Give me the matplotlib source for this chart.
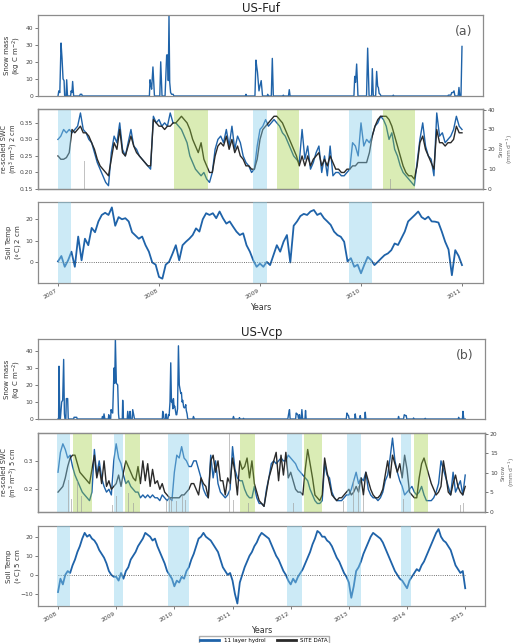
import numpy as np
import matplotlib
matplotlib.use("Agg")
import matplotlib.pyplot as plt
from matplotlib.lines import Line2D

# ---------------- US-Fuf data ----------------
# snow mass (kg C m-2), irregular times (decimal years)
snow_mass_fuf_t = [2007.000, 2007.008, 2007.018, 2007.030, 2007.040, 2007.050, 2007.060, 2007.066, 2007.080, 2007.086,
                   2007.094, 2007.125, 2007.130, 2007.138, 2007.145, 2007.155, 2007.215, 2007.220, 2007.235, 2007.240,
                   2007.905, 2007.911, 2007.918, 2007.927, 2007.940, 2007.955, 2008.008, 2008.017, 2008.030, 2008.060,
                   2008.066, 2008.076, 2008.086, 2008.092, 2008.099, 2008.106, 2008.115, 2008.125, 2008.140, 2008.148,
                   2008.855, 2008.861, 2008.867, 2008.950, 2008.960, 2008.968, 2008.975, 2008.990, 2009.000, 2009.012,
                   2009.025, 2009.072, 2009.076, 2009.082, 2009.112, 2009.122, 2009.132, 2009.226, 2009.231, 2009.237,
                   2009.282, 2009.290, 2009.298, 2009.930, 2009.938, 2009.946, 2009.957, 2009.970, 2010.055, 2010.066,
                   2010.080, 2010.105, 2010.112, 2010.122, 2010.145, 2010.155, 2010.165, 2010.172, 2010.180, 2010.190,
                   2010.198, 2010.315, 2010.320, 2010.326, 2010.860, 2010.865, 2010.890, 2010.898, 2010.910, 2010.921,
                   2010.930, 2010.962, 2010.970, 2010.978, 2010.990, 2011.000]
snow_mass_fuf = [0, 3, 2, 31, 22, 10, 9, 0, 0, 9.5,
                 0, 0, 3, 2, 8.5, 0, 0, 1, 1, 0,
                 0, 9.5, 7, 4, 17, 0, 0, 20, 0, 0,
                 9, 24, 24, 9, 47, 8, 2, 1, 1, 0,
                 0, 1, 0, 0, 21, 17, 14, 3, 6, 9,
                 0, 0, 1, 0, 0, 22, 0, 0, 0.5, 0,
                 0, 3.7, 0, 0, 11.5, 8, 18.7, 0, 0, 28,
                 0, 0, 16, 0, 0, 14.4, 5.6, 5, 1.5, 1,
                 0, 0, 0.5, 0, 0, 0.5, 0.5, 2, 2, 3,
                 0, 0, 5, 0, 0, 29]

# re-scaled SWC 2 cm, 36 samples per year from 2007.0
swc_model_fuf = [0.30, 0.31, 0.33, 0.32, 0.33, 0.32, 0.33, 0.34, 0.38, 0.33, 0.32, 0.30, 0.29, 0.26, 0.23, 0.21, 0.19, 0.17, 0.16,
                 0.26, 0.31, 0.29, 0.35, 0.27, 0.25, 0.29, 0.33, 0.28, 0.27, 0.25, 0.24, 0.23, 0.22, 0.21, 0.37, 0.35,
                 0.36, 0.34, 0.35, 0.34, 0.38, 0.35, 0.35, 0.34, 0.33, 0.31, 0.29, 0.25, 0.23, 0.21, 0.20, 0.19, 0.20, 0.18, 0.17,
                 0.20, 0.27, 0.30, 0.31, 0.29, 0.33, 0.28, 0.34, 0.27, 0.31, 0.29, 0.25, 0.23, 0.22, 0.20, 0.21, 0.28, 0.33, 0.34,
                 0.36, 0.34, 0.35, 0.36, 0.35, 0.34, 0.32, 0.31, 0.29, 0.27, 0.25, 0.24, 0.23, 0.33, 0.24, 0.28, 0.21, 0.23, 0.26,
                 0.28, 0.20, 0.25, 0.19, 0.28, 0.19, 0.20, 0.20, 0.19, 0.19, 0.20, 0.21,
                 0.29, 0.28, 0.25, 0.35, 0.28, 0.30, 0.29, 0.31, 0.34, 0.35, 0.37, 0.36, 0.34, 0.30, 0.32, 0.27, 0.25, 0.22, 0.20,
                 0.19, 0.18, 0.17, 0.16, 0.23, 0.30, 0.35, 0.28, 0.25, 0.24, 0.19, 0.38, 0.31, 0.32, 0.29, 0.30, 0.31, 0.33, 0.37,
                 0.34, 0.33]
swc_site_fuf = [0.25, 0.24, 0.24, 0.245, 0.26, 0.33, 0.32, 0.33, 0.34, 0.32, 0.32, 0.31, 0.29, 0.27, 0.24, 0.22, 0.21, 0.20, 0.19,
                0.24, 0.29, 0.27, 0.33, 0.26, 0.25, 0.28, 0.31, 0.28, 0.26, 0.25, 0.24, 0.23, 0.22, 0.22, 0.36, 0.35,
                0.34, 0.34, 0.33, 0.34, 0.34, 0.35, 0.35, 0.36, 0.37, 0.36, 0.35, 0.33, 0.30, 0.28, 0.26, 0.29, 0.24, 0.22, 0.20,
                0.20, 0.25, 0.28, 0.29, 0.28, 0.31, 0.27, 0.30, 0.26, 0.28, 0.25, 0.24, 0.22, 0.22, 0.21, 0.21, 0.24, 0.30, 0.33,
                0.34, 0.35, 0.36, 0.37, 0.37, 0.36, 0.35, 0.33, 0.31, 0.29, 0.27, 0.25, 0.22, 0.25, 0.22, 0.25, 0.22, 0.24, 0.25,
                0.26, 0.22, 0.24, 0.22, 0.25, 0.23, 0.21, 0.21, 0.20, 0.20, 0.21, 0.21,
                0.22, 0.22, 0.23, 0.23, 0.23, 0.23, 0.26, 0.31, 0.34, 0.36, 0.37, 0.37, 0.37, 0.36, 0.34, 0.31, 0.28, 0.25, 0.22,
                0.20, 0.19, 0.19, 0.18, 0.22, 0.29, 0.31, 0.27, 0.25, 0.23, 0.21, 0.33, 0.29, 0.29, 0.28, 0.29, 0.29, 0.30, 0.34,
                0.32, 0.32]

# daily snow at site (mm d-1)
snow_fuf_t = [2007.07, 2007.19, 2007.21, 2007.23, 2007.26, 2007.90, 2007.94, 2007.96, 2008.01, 2008.05,
              2008.08, 2008.14, 2008.22, 2008.93, 2008.97, 2009.03, 2009.07, 2009.10, 2009.13, 2009.89,
              2009.92, 2009.95, 2009.98, 2010.04, 2010.12, 2010.29, 2010.96, 2010.99]
snow_fuf = [6, 5, 9, 13, 14, 2, 7, 8, 11, 30,
            10, 13, 2, 3, 10, 11, 23, 40, 6, 5,
            9, 11, 13, 6, 23, 5, 16, 2]

# soil temperature 2 cm, 30 samples per year from 2007.0
temp_fuf = [0.5, 3, -2, 1, 5, -2, 12, 1, 11, 8, 16, 14, 19, 22, 23, 22, 25.5, 17, 21, 20,
            20.5, 19, 14, 12.5, 11, 12, 8, 5, 0, -1, -6.7, -7.5, -1, 0.3, 4, 8, 1, 8, 9.6, 11,
            12.7, 15.8, 14.3, 20, 22.8, 22, 22.8, 20.5, 23.6, 20.5, 18, 19, 16.6, 14.3, 12.7, 13.5, 8, 5, 1, -2,
            -0.5, -2, 0.3, -1.2, 3.4, 8, 5, 9.6, 12.7, 0, 17, 19, 21.5, 22.5, 22, 23.6, 24.3, 22, 22.8, 20.5,
            19, 17.4, 14.3, 12.7, 11.9, 9.6, 0.5, 2, -2, -1, -5, -1, 2.6, 1.1, -1.2, 0.3, 1.9, 3.4, 4.2, 5.7,
            8.8, 8.1, 11.2, 14.3, 19, 20.5, 22, 23.6, 21, 20, 21.2, 19, 18.9, 18.5, 14.3, 9.6, 6, -5.9, 5.7, 3,
            -1.2]

blue_fuf_start = [2007.00, 2008.93, 2009.88]
blue_fuf_end = [2007.13, 2009.07, 2010.11]
green_fuf_start = [2008.15, 2009.17, 2010.22]
green_fuf_end = [2008.49, 2009.39, 2010.53]

# ---------------- US-Vcp data ----------------
snow_mass_vcp_t = [2008.000, 2008.010, 2008.017, 2008.030, 2008.040, 2008.052, 2008.063, 2008.080, 2008.097, 2008.110,
                   2008.120, 2008.135, 2008.143, 2008.166, 2008.176, 2008.270, 2008.275, 2008.321, 2008.330,
                   2008.755, 2008.763, 2008.780, 2008.791, 2008.805, 2008.865, 2008.872, 2008.885, 2008.905, 2008.912,
                   2008.925, 2008.940, 2008.963, 2008.975, 2008.986, 2009.003, 2009.026, 2009.040, 2009.049, 2009.105,
                   2009.112, 2009.125, 2009.190, 2009.198, 2009.215, 2009.232, 2009.239, 2009.250, 2009.275, 2009.284,
                   2009.300, 2009.315,
                   2009.793, 2009.800, 2009.812, 2009.823, 2009.850, 2009.858, 2009.870, 2009.890, 2009.898, 2009.910,
                   2009.925, 2009.938, 2009.950, 2009.961, 2009.975, 2009.984, 2009.996, 2010.007, 2010.030, 2010.041,
                   2010.055, 2010.070, 2010.085, 2010.099, 2010.110, 2010.122, 2010.133, 2010.144, 2010.160, 2010.173,
                   2010.185, 2010.196, 2010.205, 2010.219, 2010.230, 2010.318, 2010.328, 2010.345,
                   2011.005, 2011.016, 2011.030, 2011.110, 2011.119, 2011.130, 2011.180, 2011.188, 2011.200,
                   2011.950, 2011.962, 2011.979, 2011.990, 2012.085, 2012.094, 2012.110, 2012.123, 2012.135, 2012.145,
                   2012.151, 2012.160, 2012.180, 2012.192, 2012.205, 2012.245, 2012.255, 2012.265,
                   2012.955, 2012.966, 2012.980, 2012.994, 2013.005, 2013.100, 2013.109, 2013.120, 2013.188, 2013.195,
                   2013.205, 2013.272, 2013.281, 2013.292,
                   2013.845, 2013.854, 2013.865, 2013.940, 2013.952, 2013.975, 2013.986, 2013.995, 2014.105, 2014.112,
                   2014.120, 2014.305, 2014.313, 2014.320, 2014.880, 2014.887, 2014.895, 2014.952, 2014.961, 2014.975,
                   2015.000]
snow_mass_vcp = [0, 0, 31, 3, 0, 5, 10, 11, 35, 3,
                 0, 0, 12, 12, 0, 0, 1, 1, 0,
                 0, 1.5, 0, 3, 0, 0, 2.5, 0, 0, 5.5,
                 4, 3.5, 30, 21, 47, 21, 20, 3, 0, 0,
                 11, 0, 0, 4.5, 0, 0, 4.5, 0, 0, 5.5,
                 2.5, 0,
                 0, 4.5, 3, 0, 0, 3, 0, 0, 2.5, 2,
                 10, 33, 10, 11, 6, 12, 7, 7.5, 2.5, 2.5,
                 6, 43, 20, 17, 15, 15.5, 10, 11, 7, 6.5,
                 7, 8.4, 5, 3, 0, 0, 1.5, 0,
                 0, 1.5, 0, 0, 0.8, 0, 0, 0.4, 0,
                 0, 2.5, 5.5, 0, 0, 3.5, 3, 2.5, 0, 0,
                 2.5, 0, 0, 5.5, 0, 0, 5, 0,
                 0, 3.5, 2.5, 2, 0, 0, 3, 0, 0, 2,
                 0, 0, 4, 0,
                 0, 1.5, 0, 0, 2.5, 2, 2, 0, 0, 0.6,
                 0, 0, 0.4, 0, 0, 1, 0, 0, 4.5, 0,
                 0]

# re-scaled SWC 5 cm, 24 samples per year from 2008.0
swc_model_vcp = [0.26, 0.33, 0.36, 0.34, 0.31, 0.32, 0.28, 0.25, 0.23, 0.21, 0.19, 0.18, 0.17, 0.16, 0.19, 0.34, 0.25, 0.30,
                 0.24, 0.21, 0.19, 0.20, 0.18, 0.30, 0.36, 0.31, 0.29, 0.25, 0.22, 0.23, 0.21, 0.20, 0.19, 0.19, 0.17, 0.18,
                 0.17, 0.18, 0.17, 0.18, 0.17, 0.17, 0.16, 0.18, 0.17, 0.16, 0.17, 0.16, 0.26, 0.32, 0.31, 0.35, 0.31, 0.30,
                 0.28,
                 0.28, 0.30, 0.30, 0.27, 0.24, 0.20, 0.18, 0.17, 0.32, 0.24, 0.30, 0.22, 0.19, 0.18, 0.17, 0.18, 0.20, 0.35,
                 0.27, 0.24, 0.23, 0.23, 0.20, 0.18, 0.17, 0.17, 0.21, 0.17, 0.15, 0.15, 0.14, 0.20, 0.24, 0.29, 0.30, 0.29,
                 0.30, 0.31, 0.30, 0.30, 0.32, 0.31, 0.30, 0.29, 0.27, 0.26, 0.25, 0.24, 0.23, 0.20, 0.18, 0.16, 0.15, 0.15,
                 0.16, 0.29, 0.25, 0.24, 0.19, 0.17, 0.16, 0.16, 0.16, 0.17, 0.18, 0.18,
                 0.20, 0.23, 0.26, 0.22, 0.24, 0.23, 0.26, 0.20, 0.18, 0.17, 0.17, 0.16, 0.17, 0.19, 0.23, 0.25, 0.31, 0.38,
                 0.30, 0.26, 0.23, 0.21, 0.18, 0.19, 0.20, 0.21, 0.19, 0.18, 0.19, 0.21, 0.18, 0.16, 0.16, 0.16, 0.17, 0.19,
                 0.22, 0.30, 0.27, 0.24, 0.21, 0.18, 0.26, 0.19, 0.21, 0.23, 0.18, 0.25]
swc_site_vcp = [0.19, 0.20, 0.21, 0.24, 0.28, 0.31, 0.32, 0.32, 0.29, 0.26, 0.25, 0.24, 0.23, 0.22, 0.27, 0.32, 0.24, 0.28,
                0.22, 0.30, 0.21, 0.23, 0.20, 0.21, 0.22, 0.25, 0.21, 0.26, 0.30, 0.28, 0.26, 0.24, 0.23, 0.28, 0.22, 0.30,
                0.23, 0.29, 0.21, 0.27, 0.22, 0.23, 0.20, 0.22, 0.19, 0.18, 0.17, 0.17, 0.17, 0.17, 0.17, 0.18, 0.18, 0.19,
                0.20,
                0.22, 0.22, 0.20, 0.18, 0.24, 0.22, 0.21, 0.17, 0.30, 0.32, 0.26, 0.30, 0.23, 0.23, 0.18, 0.24, 0.22, 0.31,
                0.26, 0.18, 0.30, 0.27, 0.28, 0.31, 0.24, 0.30, 0.22, 0.19, 0.16, 0.15, 0.14, 0.19, 0.24, 0.27, 0.30, 0.33,
                0.23, 0.32, 0.25, 0.33, 0.24, 0.26, 0.23, 0.20, 0.19, 0.19, 0.18, 0.27, 0.34, 0.29, 0.24, 0.18, 0.17, 0.16,
                0.18, 0.31, 0.26, 0.22, 0.18, 0.17, 0.16, 0.17, 0.17, 0.18, 0.19, 0.20,
                0.18, 0.19, 0.21, 0.19, 0.24, 0.18, 0.26, 0.23, 0.20, 0.18, 0.17, 0.17, 0.18, 0.20, 0.25, 0.30, 0.24, 0.32,
                0.29, 0.26, 0.29, 0.24, 0.32, 0.27, 0.19, 0.18, 0.17, 0.17, 0.24, 0.29, 0.31, 0.28, 0.25, 0.22, 0.20, 0.18,
                0.19, 0.21, 0.30, 0.25, 0.19, 0.18, 0.22, 0.25, 0.21, 0.19, 0.18, 0.21]

snow_vcp_t = [2008.034, 2008.069, 2008.103, 2008.138, 2008.178, 2008.235, 2008.292, 2008.333, 2008.407, 2008.894,
              2008.935, 2008.981, 2009.009, 2009.067, 2009.153, 2009.210, 2009.296, 2009.869, 2009.915, 2009.955,
              2009.995, 2010.041, 2010.099, 2010.144, 2010.190, 2010.299, 2010.815, 2010.856, 2010.901, 2010.947,
              2010.987, 2011.016, 2011.073, 2011.131, 2011.217, 2011.274, 2011.933, 2011.991, 2012.048, 2012.106,
              2012.163, 2012.335, 2012.851, 2012.908, 2013.080, 2013.166, 2013.252, 2013.310, 2013.940, 2013.998,
              2014.084, 2014.170, 2014.858, 2014.915, 2014.972]
snow_vcp = [2.5, 3, 2, 3, 8.3, 3.2, 6.6, 8, 4, 2.3,
            1.9, 3, 4, 6.6, 1.9, 4.9, 2.3, 3, 4, 3.5,
            5, 2.7, 10, 4, 3, 3.2, 4, 5.8, 3, 21,
            4, 3, 4, 2.3, 4.9, 2.3, 2, 1.5, 2.3, 1.9,
            1.5, 3.2, 4, 2.7, 8.3, 6.6, 4, 1.9, 3.2, 1.9,
            6.6, 2.7, 2.7, 1.9, 2.3]

# soil temperature 5 cm, 24 samples per year from 2008.0
temp_vcp = [-9, -2, -5, 0, 2, 1, 5, 8, 12, 15, 19, 22, 20, 21, 19, 18, 16, 13, 11, 9, 6, 2, 0, -1,
            -1, -3, 1, -2, 2, 4, 8, 10, 12, 15, 17, 19, 22, 21, 20, 18, 19, 15, 12, 9, 6, 2, 0, -2,
            -6, -3, -4, -1, -2, 2, 4, 8, 11, 15, 19, 20, 22, 20, 19, 18, 16, 14, 12, 8, 4, 2, 0, 1,
            -3, -10, -15, -4, 0, 4, 7, 10, 12, 15, 17, 20, 22, 21, 20, 19, 16, 13, 10, 8, 5, 2, 0, -3,
            -5, -2, -4, -1, 1, 3, 6, 9, 12, 16, 19, 23, 22, 20, 20, 18, 17, 15, 12, 9, 7, 4, 1, -1,
            -4, -12, -6, 2, 4, 7, 11, 14, 17, 20, 22, 21, 20, 19, 17, 14, 11, 8, 5, 2, 0, -2, -3, -5,
            -7, -3, -1, 1, 3, 2, 5, 7, 10, 13, 16, 19, 22, 24, 20, 18, 17, 15, 13, 9, 5, 3, 1, 2, -7]

blue_vcp_start = [2007.98, 2008.96, 2009.89, 2011.94, 2012.96, 2013.90]
blue_vcp_end = [2008.21, 2009.12, 2010.25, 2012.19, 2013.20, 2014.07]
green_vcp_start = [2008.25, 2009.15, 2011.13, 2012.22, 2014.12]
green_vcp_end = [2008.58, 2009.41, 2011.39, 2012.54, 2014.36]

MODEL = '#1f63a9'
SITE = '#2a2a2a'
SKY = '#87ceeb'
GRN = '#9acd32'
W, H = 528, 643


def box(left, top, right, bottom):
    return [left / W, 1 - bottom / H, (right - left) / W, (bottom - top) / H]


def style(ax):
    for s in ax.spines.values():
        s.set_color('#8c8c8c')
        s.set_linewidth(0.9)
    ax.tick_params(labelsize=4.3, colors='#444444', length=2, width=0.5, pad=1.5)


def spans(ax, s_blue, e_blue, s_green=None, e_green=None):
    for a, b in zip(s_blue, e_blue):
        ax.axvspan(a, b, color=SKY, alpha=0.42, lw=0, zorder=3)
    if s_green is not None:
        for a, b in zip(s_green, e_green):
            ax.axvspan(a, b, color=GRN, alpha=0.36, lw=0, zorder=3)


def left_label(ax, text, right_px, width_px, size=5):
    ax.set_ylabel(text, fontsize=size, color='#333333', linespacing=1.1)
    ax.yaxis.set_label_coords((right_px - 38) / width_px, 0.5)


fig = plt.figure(figsize=(W / 100, H / 100), dpi=100)


def site_panels(start, rate_swc, rate_temp, xlim, tops, right, smass_t, smass, swc_m, swc_s, sn_t, sn,
                temp, b_s, b_e, g_s, g_e, depth, swc_ylim, swc_ticks, snow_ylim, snow_ticks,
                smass_ylim, temp_ylim, temp_ticks, title, letter, years):
    wpx = right - 38
    # snow mass
    ax1 = fig.add_axes(box(38, tops[0][0], right, tops[0][1]))
    ax1.plot(smass_t, smass, color=MODEL, lw=1.0)
    ax1.set_xlim(xlim)
    ax1.set_ylim(smass_ylim)
    ax1.set_yticks([0, 10, 20, 30, 40])
    ax1.set_xticks([])
    left_label(ax1, 'Snow mass\n(kg C m$^{-2}$)', 23, wpx)
    ax1.set_title(title, fontsize=8.5, color='#222222', pad=2.5)
    ax1.text(0.975, 0.8, letter, transform=ax1.transAxes, fontsize=9, color='#555555', ha='right', va='center')
    style(ax1)

    # soil water content
    ax2 = fig.add_axes(box(38, tops[1][0], right, tops[1][1]))
    t_swc = start + np.arange(len(swc_m)) / rate_swc
    t_site = start + np.arange(len(swc_s)) / rate_swc
    ax2.plot(t_swc, swc_m, color=MODEL, lw=1.0, zorder=2)
    ax2.plot(t_site, swc_s, color=SITE, lw=1.0, zorder=2)
    spans(ax2, b_s, b_e, g_s, g_e)
    ax2.set_xlim(xlim)
    ax2.set_ylim(swc_ylim)
    ax2.set_yticks(swc_ticks)
    ax2.set_xticks([])
    left_label(ax2, 're-scaled SWC\n(m$^3$ m$^{-3}$) ' + depth, 20, wpx, size=4.8)
    style(ax2)
    ax2b = ax2.twinx()
    ax2b.bar(sn_t, sn, width=(xlim[1] - xlim[0]) / 900, color='#9a9a9a', alpha=0.6, lw=0)
    ax2b.set_ylim(snow_ylim)
    ax2b.set_yticks(snow_ticks)
    ax2b.set_ylabel('Snow\n(mm d$^{-1}$)', fontsize=4.3, color='#666666', labelpad=2)
    style(ax2b)
    ax2b.set_xlim(xlim)

    # soil temperature
    ax3 = fig.add_axes(box(38, tops[2][0], right, tops[2][1]))
    t_temp = start + np.arange(len(temp)) / rate_temp
    ax3.plot(t_temp, temp, color=MODEL, lw=1.3, zorder=2)
    ax3.hlines(0, t_temp[0], t_temp[-1], colors='#444444', linestyles=':', lw=0.6, zorder=2)
    spans(ax3, b_s, b_e)
    ax3.set_xlim(xlim)
    ax3.set_ylim(temp_ylim)
    ax3.set_yticks(temp_ticks)
    ax3.set_xticks(years)
    ax3.set_xticklabels([str(y) for y in years], rotation=30, ha='right')
    left_label(ax3, 'Soil Temp\n($\\circ$C) ' + depth, 23, wpx)
    ax3.set_xlabel('Years', fontsize=5.8, color='#333333', labelpad=2)
    style(ax3)


site_panels(2007.0, 36, 30, (2006.802, 2011.208), [(15, 96), (109, 189), (202, 283)], 483,
            snow_mass_fuf_t, snow_mass_fuf, swc_model_fuf, swc_site_fuf, snow_fuf_t, snow_fuf,
            temp_fuf, blue_fuf_start, blue_fuf_end, green_fuf_start, green_fuf_end, '2 cm',
            (0.15, 0.392), [0.15, 0.20, 0.25, 0.30, 0.35], (0, 40.3), [0, 10, 20, 30, 40],
            (0, 47.4), (-9.5, 28), [0, 10, 20], 'US-Fuf', '(a)', [2007, 2008, 2009, 2010, 2011])

site_panels(2008.0, 24, 24, (2007.656, 2015.34), [(339, 419), (433, 512), (526, 606)], 485,
            snow_mass_vcp_t, snow_mass_vcp, swc_model_vcp, swc_site_vcp, snow_vcp_t, snow_vcp,
            temp_vcp, blue_vcp_start, blue_vcp_end, green_vcp_start, green_vcp_end, '5 cm',
            (0.12, 0.398), [0.2, 0.3], (0, 20.2), [0, 5, 10, 15, 20],
            (0, 47), (-16.3, 25.6), [-10, 0, 10, 20], 'US-Vcp', '(b)',
            [2008, 2009, 2010, 2011, 2012, 2013, 2014, 2015])

handles = [Line2D([0], [0], color=MODEL, lw=2), Line2D([0], [0], color=SITE, lw=2)]
fig.legend(handles, ['11 layer hydrol', 'SITE DATA'], loc='upper center', bbox_to_anchor=(0.5, 1 - 633.5 / H),
           ncol=2, fontsize=4.0, frameon=True, edgecolor='#999999', fancybox=False, borderpad=0.25,
           handlelength=3.5, columnspacing=2.0, handleheight=0.5)

fig.savefig('out.png', dpi=100)
